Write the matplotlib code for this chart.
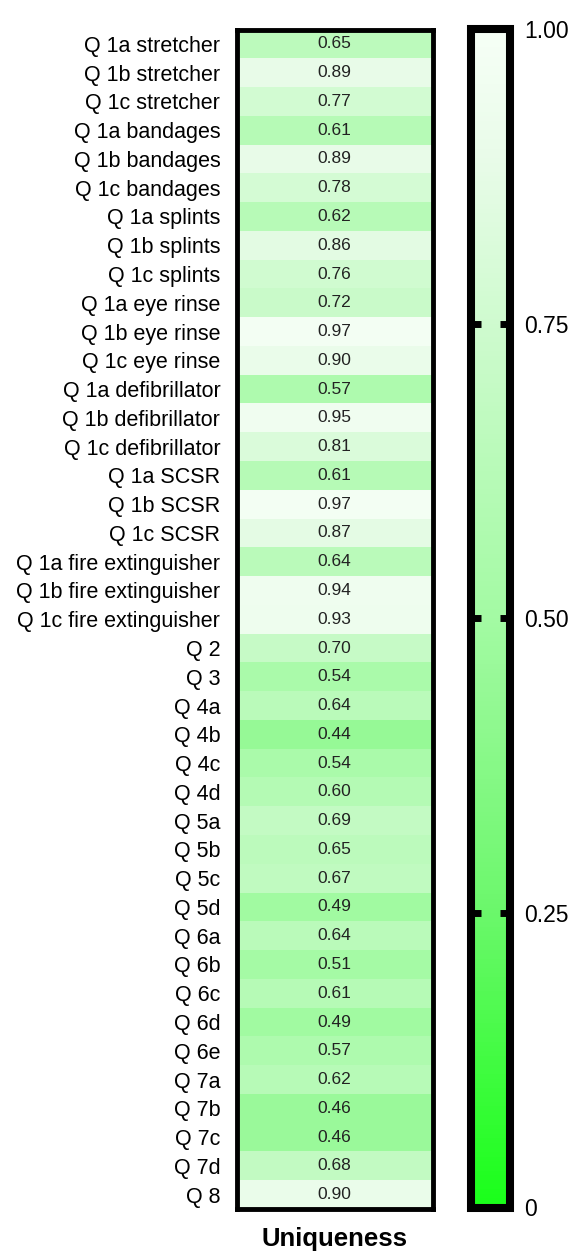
import numpy as np
import matplotlib
matplotlib.use("Agg")
import matplotlib.pyplot as plt
from matplotlib.colors import LinearSegmentedColormap

plt.rcParams['font.family'] = ['Liberation Sans', 'DejaVu Sans']

labels = [
    "Q 1a stretcher", "Q 1b stretcher", "Q 1c stretcher",
    "Q 1a bandages", "Q 1b bandages", "Q 1c bandages",
    "Q 1a splints", "Q 1b splints", "Q 1c splints",
    "Q 1a eye rinse", "Q 1b eye rinse", "Q 1c eye rinse",
    "Q 1a defibrillator", "Q 1b defibrillator", "Q 1c defibrillator",
    "Q 1a SCSR", "Q 1b SCSR", "Q 1c SCSR",
    "Q 1a fire extinguisher", "Q 1b fire extinguisher", "Q 1c fire extinguisher",
    "Q 2", "Q 3", "Q 4a", "Q 4b", "Q 4c", "Q 4d",
    "Q 5a", "Q 5b", "Q 5c", "Q 5d",
    "Q 6a", "Q 6b", "Q 6c", "Q 6d", "Q 6e",
    "Q 7a", "Q 7b", "Q 7c", "Q 7d", "Q 8",
]
uniqueness = [
    0.65, 0.89, 0.77,
    0.61, 0.89, 0.78,
    0.62, 0.86, 0.76,
    0.72, 0.97, 0.90,
    0.57, 0.95, 0.81,
    0.61, 0.97, 0.87,
    0.64, 0.94, 0.93,
    0.70, 0.54, 0.64, 0.44, 0.54, 0.60,
    0.69, 0.65, 0.67, 0.49,
    0.64, 0.51, 0.61, 0.49, 0.57,
    0.62, 0.46, 0.46, 0.68, 0.90,
]
column_label = "Uniqueness"
cbar_ticks = [0, 0.25, 0.5, 0.75, 1.0]
cbar_ticklabels = ["0", "0.25", "0.50", "0.75", "1.00"]

cmap = LinearSegmentedColormap.from_list("greens_custom", [
    (0.00, (0.10, 1.00, 0.10)),
    (0.25, (0.42, 0.97, 0.42)),
    (0.50, (0.64, 0.98, 0.64)),
    (0.64, (0.73, 0.98, 0.73)),
    (0.89, (0.91, 0.985, 0.91)),
    (1.00, (0.965, 1.00, 0.965)),
])

W, H = 584, 1256
fig = plt.figure(figsize=(W / 100, H / 100), dpi=100)

ax = fig.add_axes([237 / W, 1 - 1209 / H, (432.5 - 237) / W, (1209 - 29.5) / H])
data = np.array(uniqueness).reshape(-1, 1)
mesh = ax.pcolormesh(data, cmap=cmap, vmin=0, vmax=1)
ax.set_xlim(0, 1)
ax.set_ylim(len(labels), 0)
ax.set_yticks(np.arange(len(labels)) + 0.5)
ax.set_yticklabels(labels, fontsize=15.5)
ax.tick_params(axis='y', length=0, pad=12)
ax.set_xticks([])
ax.set_xlabel(column_label, fontsize=18.5, fontweight='bold', labelpad=13)
for s in ax.spines.values():
    s.set_linewidth(3.5)
    s.set_color('black')

for i, v in enumerate(uniqueness):
    ax.text(0.5, i + 0.5, f"{v:.2f}", ha='center', va='center',
            fontsize=12.5, color='#222222')

cax = fig.add_axes([471 / W, 1 - 1207.5 / H, (510 - 471) / W, (1207.5 - 29) / H])
cb = fig.colorbar(mesh, cax=cax)
cb.outline.set_linewidth(5.8)
cb.outline.set_edgecolor('black')
cb.set_ticks(cbar_ticks)
cb.set_ticklabels(cbar_ticklabels)
cax.tick_params(axis='y', direction='in', length=7, width=5, left=True, right=True,
                labelleft=False, labelright=True, labelsize=16.5, pad=10.5, color='black')
ticks = cax.yaxis.get_major_ticks()
for t in (ticks[0], ticks[-1]):
    t.tick1line.set_visible(False)
    t.tick2line.set_visible(False)

fig.savefig("out.png", dpi=100)
